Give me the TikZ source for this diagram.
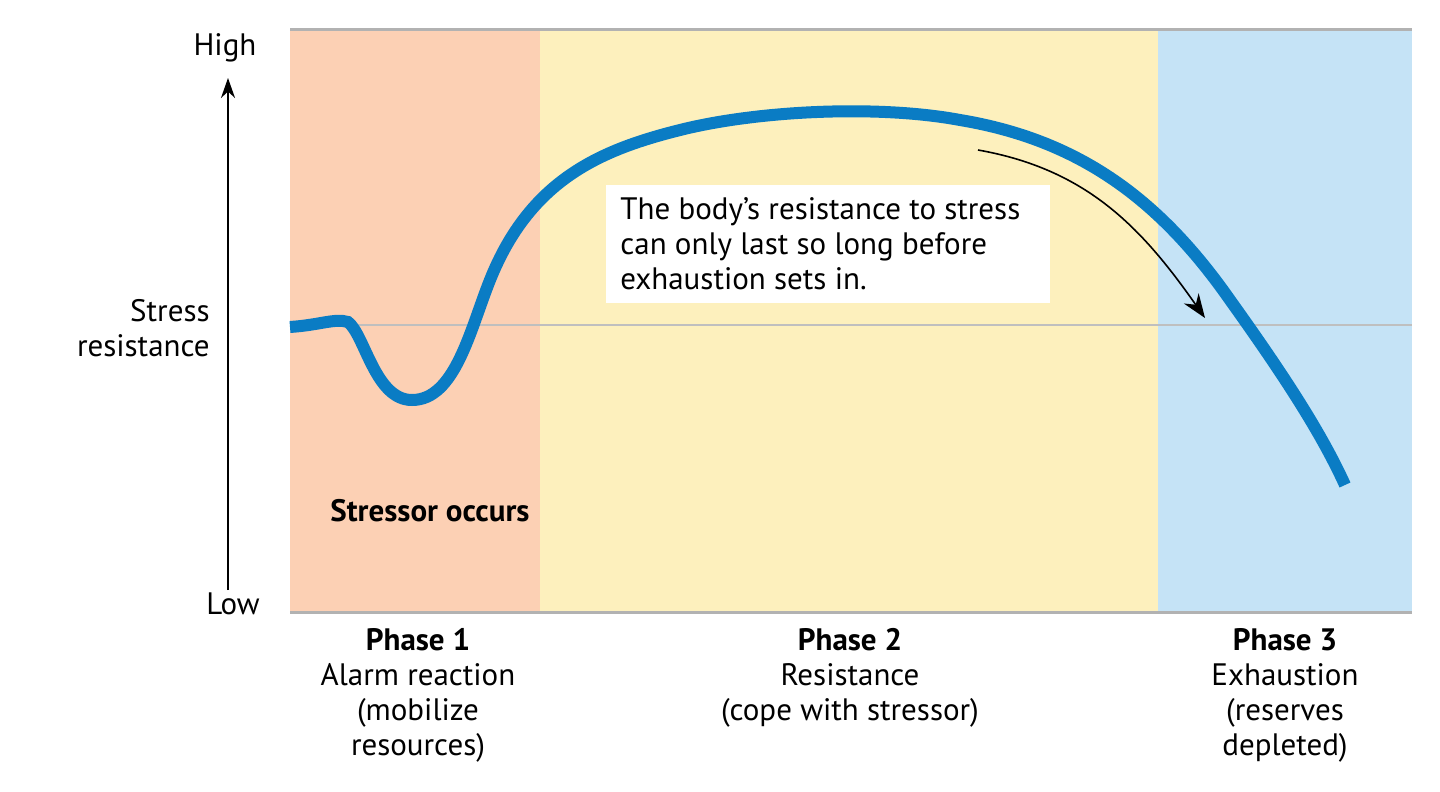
\documentclass[tikz,border=0pt]{standalone}
\usepackage{fontspec}
\setmainfont{PT Sans}
\usetikzlibrary{arrows.meta}
\definecolor{pone}{HTML}{FCD0B4}
\definecolor{ptwo}{HTML}{FDF0BD}
\definecolor{pthree}{HTML}{C5E3F6}
\definecolor{curve}{HTML}{0A7CC4}
\tikzset{lab/.style={font=\fontsize{15.5}{17.5}\selectfont,align=center,inner sep=0pt},
 blab/.style={lab,font=\fontsize{15.5}{17.5}\selectfont\bfseries}}
\begin{document}
\begin{tikzpicture}[x=0.5pt,y=-0.5pt]
\useasboundingbox (0,0) rectangle (1440,792);
\fill[pone] (290,30) rectangle (540,612);
\fill[ptwo] (540,30) rectangle (1158,612);
\fill[pthree] (1158,30) rectangle (1412,612);
\draw[gray!60,line width=1.5pt] (290,30) -- (1412,30);
\draw[gray!60,line width=1.5pt] (290,612) -- (1412,612);
\draw[gray!50,line width=0.8pt] (290,325) -- (1412,325);
\node[fill=white,minimum width=222pt,minimum height=59pt,inner sep=0pt] (box) at (828,244) {};
\node[lab,align=left,anchor=west] (boxt) at (620,244) {The body's resistance to stress\\can only last so long before\\exhaustion sets in.};
\draw[curve,line width=6pt] (290,327) .. controls (320,325) and (335,318) .. (348,322)
 .. controls (365,335) and (375,400) .. (412,400)
 .. controls (455,400) and (470,330) .. (490,280)
 .. controls (530,180) and (600,150) .. (680,130)
 .. controls (760,110) and (880,105) .. (960,120)
 .. controls (1080,140) and (1160,200) .. (1230,300)
 .. controls (1280,370) and (1320,430) .. (1345,485);
\coordinate (as) at (978,150); \coordinate (ae) at (1205,318);
\draw[-{Stealth[length=12pt,width=9pt]},line width=0.8pt] (as) to[out=-10,in=125] (ae);
\coordinate (ab) at (228,590); \coordinate (at) at (228,78);
\draw[-{Stealth[length=10pt,width=7pt]},line width=1pt] (ab) -- (at);
\node[lab] (high) at (225,48) {High};
\node[lab] (low) at (233,604) {Low};
\node[lab,align=right,anchor=east] (sr) at (210,328) {Stress\\resistance};
\node[blab] (so) at (430,511) {Stressor occurs};
\node[lab,anchor=north] (p1) at (418,628) {\textbf{Phase 1}\\Alarm reaction\\(mobilize\\resources)};
\node[lab,anchor=north] (p2) at (850,628) {\textbf{Phase 2}\\Resistance\\(cope with stressor)};
\node[lab,anchor=north] (p3) at (1285,628) {\textbf{Phase 3}\\Exhaustion\\(reserves\\depleted)};
\end{tikzpicture}
\end{document}
